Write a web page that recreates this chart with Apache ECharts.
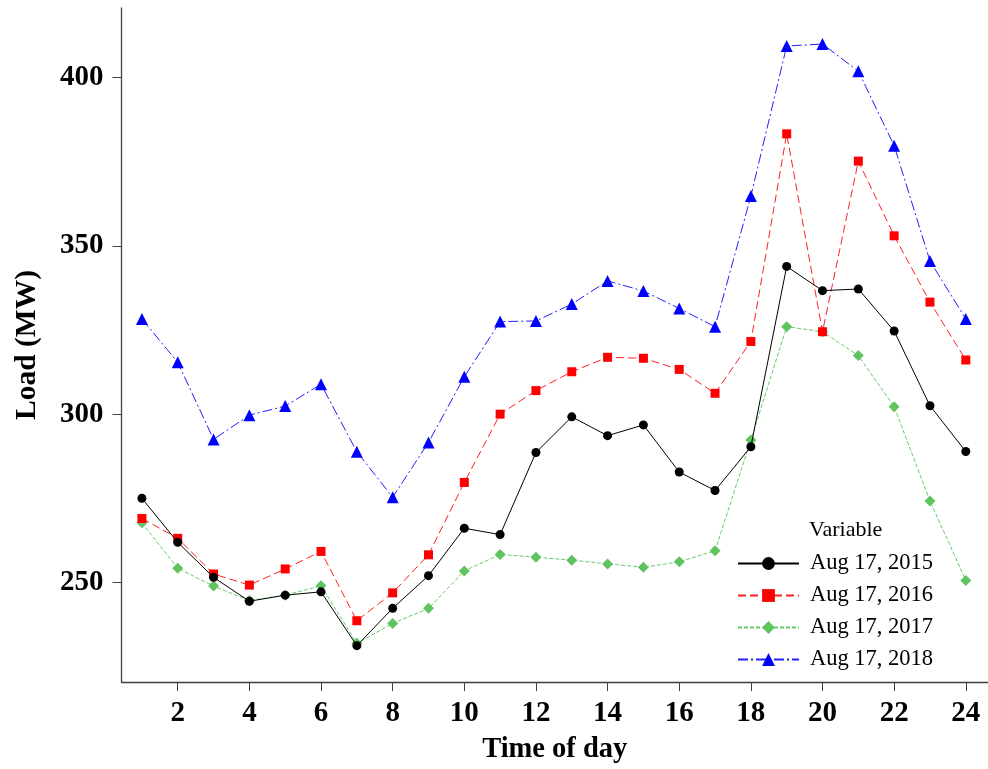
<!DOCTYPE html>
<html><head><meta charset="utf-8">
<script src="https://cdn.jsdelivr.net/npm/echarts@6/dist/echarts.min.js"></script>
<style>html,body{margin:0;padding:0;background:#fff}#c{width:988px;height:769px}</style>
</head><body><div id="c"></div>
<script>
const hours = [1,2,3,4,5,6,7,8,9,10,11,12,13,14,15,16,17,18,19,20,21,22,23,24];
const load2015 = [275.0,261.9,251.5,244.4,246.2,247.2,231.2,242.3,252.0,266.1,264.2,288.6,299.2,293.6,296.8,282.8,277.3,290.3,343.9,336.7,337.2,324.7,302.5,288.9];
const load2016 = [269.0,263.1,252.5,249.2,254.0,259.2,238.6,246.9,258.2,279.7,300.0,307.0,312.6,316.9,316.6,313.3,306.2,321.6,383.3,324.5,375.2,353.0,333.3,316.1];
const load2017 = [267.7,254.2,248.9,244.6,246.2,249.0,231.9,237.8,242.3,253.4,258.3,257.5,256.6,255.5,254.5,256.1,259.4,292.3,326.0,324.5,317.4,302.2,274.2,250.6];
const load2018 = [328.3,315.4,292.5,299.7,302.4,308.9,288.8,275.3,291.6,311.1,327.5,327.7,332.7,339.6,336.6,331.4,326.0,364.8,409.4,410.0,401.9,379.8,345.5,328.3];
const seriesNames = ['Aug 17, 2015','Aug 17, 2016','Aug 17, 2017','Aug 17, 2018'];
const xTicks = [2,4,6,8,10,12,14,16,18,20,22,24];
const yTicks = [250,300,350,400];

const serif = '"Liberation Serif", "Times New Roman", serif';
function pairs(v){ return hours.map((h,i)=>[h, v[i]]); }

const styles = [
  {color:'#000000', line:'#000000', type:'solid', symbol:'circle', size:9},
  {color:'#ff0000', line:'#ff2020', type:[8,4], symbol:'rect', size:9},
  {color:'#5fc35f', line:'#66cc66', type:[4,2], symbol:'diamond', size:11},
  {color:'#0000ff', line:'#2020ff', type:[10,3,2,3], symbol:'triangle', size:12}
];
const vals = [load2015, load2016, load2017, load2018];

const chart = echarts.init(document.getElementById('c'), null, {renderer:'canvas'});
chart.setOption({
  animation:false,
  backgroundColor:'#ffffff',
  title:{text:'Variable', left:809, top:519, textStyle:{fontFamily:serif, fontWeight:'normal', fontSize:22, color:'#000'}, padding:0},
  legend:{
    orient:'vertical', left:737, top:552, padding:0, itemWidth:61, itemHeight:16, itemGap:9,
    textStyle:{fontFamily:serif, fontSize:22.5, color:'#000', lineHeight:22, padding:[0,0,0,6]},
    data:seriesNames
  },
  grid:{left:121.5, right:0, top:8, bottom:87},
  xAxis:{
    type:'value', min:0.43, max:24.62,
    name:'Time of day', nameLocation:'middle', nameGap:53,
    nameTextStyle:{fontFamily:serif, fontWeight:'bold', fontSize:28.5, color:'#000'},
    axisLine:{show:true, lineStyle:{color:'#404040', width:1.3}},
    axisTick:{show:true, length:9, customValues:xTicks, lineStyle:{color:'#404040'}},
    axisLabel:{customValues:xTicks, margin:17, fontFamily:serif, fontWeight:'bold', fontSize:29, color:'#000'},
    splitLine:{show:false}
  },
  yAxis:{
    type:'value', min:220.4, max:420.7,
    name:'Load (MW)', nameLocation:'middle', nameGap:79, nameRotate:90,
    nameTextStyle:{fontFamily:serif, fontWeight:'bold', fontSize:29.5, color:'#000'},
    axisLine:{show:true, lineStyle:{color:'#404040', width:1.3}},
    axisTick:{show:true, length:9, customValues:yTicks, lineStyle:{color:'#404040'}},
    axisLabel:{customValues:yTicks, margin:18, fontFamily:serif, fontWeight:'bold', fontSize:29, color:'#000'},
    splitLine:{show:false}
  },
  series: seriesNames.map((n,i)=>({
    name:n, type:'line', data:pairs(vals[i]),
    symbol:styles[i].symbol, symbolSize:styles[i].size, showSymbol:true,
    itemStyle:{color:styles[i].color},
    lineStyle:{color:styles[i].line, width:1, type:styles[i].type},
    z: 2 + (3-i)
  }))
});
</script></body></html>
